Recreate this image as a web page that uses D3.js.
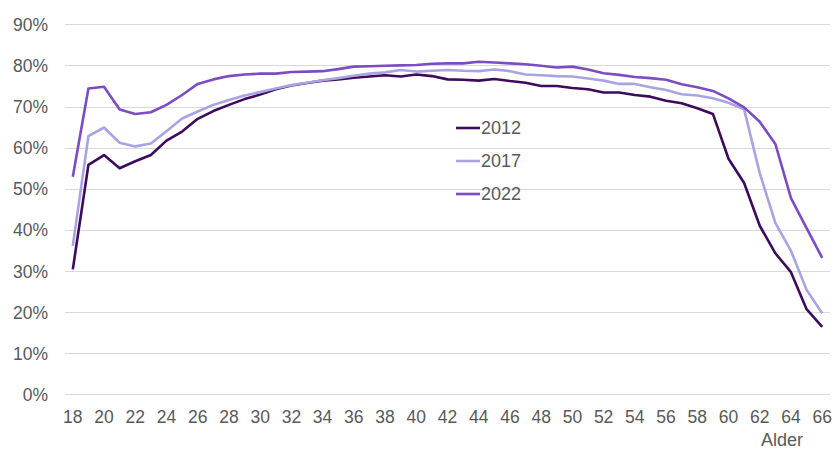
<!DOCTYPE html>
<html>
<head>
<meta charset="utf-8">
<script src="https://cdn.jsdelivr.net/npm/d3@7"></script>
<style>
  body { margin: 0; background: #fff; }
  svg { display: block; font-family: "Liberation Sans", Arial, sans-serif; }
  .grid line { stroke: #d9d9d9; stroke-width: 1; }
  .axis text { fill: #595959; font-size: 17.5px; }
  .legend text { fill: #595959; font-size: 18px; }
  path.series { fill: none; stroke-width: 2.6; stroke-linejoin: round; }
</style>
</head>
<body>
<svg class="chart" width="836" height="449"></svg>
<script>
(function() {

    // ages 18..66
    var ages = d3.range(18, 67);
    var yTicks = [0, 0.1, 0.2, 0.3, 0.4, 0.5, 0.6, 0.7, 0.8, 0.9];
    var seriesNames = ['2012', '2017', '2022'];
    var seriesColors = ['#3d0a5c', '#aaa3e3', '#7b4cc3'];

    var v2012 = [30.4, 55.8, 58.2, 55.0, 56.7, 58.2, 61.7, 63.9, 67.0, 68.9,
                 70.4, 71.8, 72.9, 74.2, 75.1, 75.7, 76.3, 76.6, 77.0, 77.3,
                 77.6, 77.3, 77.8, 77.4, 76.6, 76.5, 76.3, 76.7, 76.2, 75.8,
                 75.0, 75.0, 74.5, 74.2, 73.4, 73.4, 72.8, 72.4, 71.4, 70.8,
                 69.6, 68.2, 57.3, 51.4, 41.0, 34.3, 29.7, 20.7, 16.4];
    var v2017 = [36.1, 62.8, 64.9, 61.2, 60.3, 61.0, 64.0, 67.1, 68.8, 70.4,
                 71.6, 72.7, 73.5, 74.4, 75.2, 75.8, 76.4, 76.9, 77.5, 78.0,
                 78.3, 78.9, 78.5, 78.7, 78.9, 78.7, 78.6, 79.0, 78.6, 77.8,
                 77.6, 77.4, 77.3, 76.8, 76.3, 75.5, 75.5, 74.7, 74.0, 73.0,
                 72.7, 72.0, 70.9, 69.3, 53.8, 41.7, 34.9, 25.4, 19.7];
    var v2022 = [52.9, 74.4, 74.8, 69.3, 68.2, 68.6, 70.4, 72.8, 75.5, 76.6,
                 77.4, 77.8, 78.0, 78.0, 78.4, 78.5, 78.6, 79.1, 79.7, 79.8,
                 79.9, 80.0, 80.1, 80.4, 80.5, 80.5, 80.9, 80.7, 80.5, 80.3,
                 79.9, 79.5, 79.7, 79.0, 78.1, 77.7, 77.2, 76.9, 76.5, 75.4,
                 74.7, 73.8, 72.0, 69.8, 66.3, 60.9, 47.7, 40.4, 33.2];
    var seriesValues = [v2012, v2017, v2022];

    var p = {};
        p.left = 65;
        p.right = 830;
        p.top = 24.3;
        p.bottom = 394.3;

    var svg = d3.select('.chart');

    var x = d3.scaleBand()
        .domain(ages)
        .range([p.left, p.right])
        .padding(0);
    var cx = function(a) { return x(a) + x.bandwidth() / 2; };
    var y = d3.scaleLinear()
        .domain([0, 0.9])
        .range([p.bottom, p.top]);

    //-----  Gridlines  -----//
    svg.append('g')
        .attr('class', 'grid')
        .selectAll('line')
        .data(yTicks)
        .enter().append('line')
            .attr('x1', p.left)
            .attr('x2', p.right)
            .attr('y1', function(d) { return Math.round(y(d)) + 0.5; })
            .attr('y2', function(d) { return Math.round(y(d)) + 0.5; });

    //-----  Y Axis  -----//
    var yAxis = svg.append('g')
        .attr('class', 'axis yaxis')
        .attr('transform', 'translate(' + p.left + ',0)')
        .call(d3.axisLeft(y)
            .tickValues(yTicks)
            .tickFormat(d3.format('.0%'))
            .tickSize(0)
            .tickPadding(17));
    yAxis.select('.domain').remove();
    yAxis.selectAll('text').attr('dy', '0.35em');

    //-----  X Axis  -----//
    var xAxis = svg.append('g')
        .attr('class', 'axis xaxis')
        .attr('transform', 'translate(0,' + p.bottom + ')')
        .call(d3.axisBottom(x)
            .tickValues(ages.filter(function(a) { return a % 2 === 0; }))
            .tickSize(0)
            .tickPadding(16));
    xAxis.select('.domain').remove();

    svg.append('text')
        .attr('class', 'axis')
        .append('tspan')
        .attr('x', 803)
        .attr('y', 446)
        .attr('text-anchor', 'end')
        .attr('fill', '#595959')
        .style('font-size', '18px')
        .text('Alder');

    //-----  Lines  -----//
    var line = d3.line()
        .x(function(d) { return cx(d.age); })
        .y(function(d) { return y(d.v / 100); });

    seriesNames.forEach(function(name, i) {
        var pts = ages.map(function(a, j) { return {age: a, v: seriesValues[i][j]}; });
        svg.append('path')
            .attr('class', 'series')
            .attr('stroke', seriesColors[i])
            .attr('d', line(pts));
    });

    //-----  Legend  -----//
    var legend = svg.append('g')
        .attr('class', 'legend')
        .attr('transform', 'translate(456,128)');
    seriesNames.forEach(function(name, i) {
        var g = legend.append('g')
            .attr('transform', 'translate(0,' + (i * 33) + ')');
        g.append('line')
            .attr('x1', 0).attr('x2', 24)
            .attr('y1', 0).attr('y2', 0)
            .attr('stroke', seriesColors[i])
            .attr('stroke-width', 2.6);
        g.append('text')
            .attr('x', 25)
            .attr('dy', '0.35em')
            .text(name);
    });

})();
</script>
</body>
</html>
